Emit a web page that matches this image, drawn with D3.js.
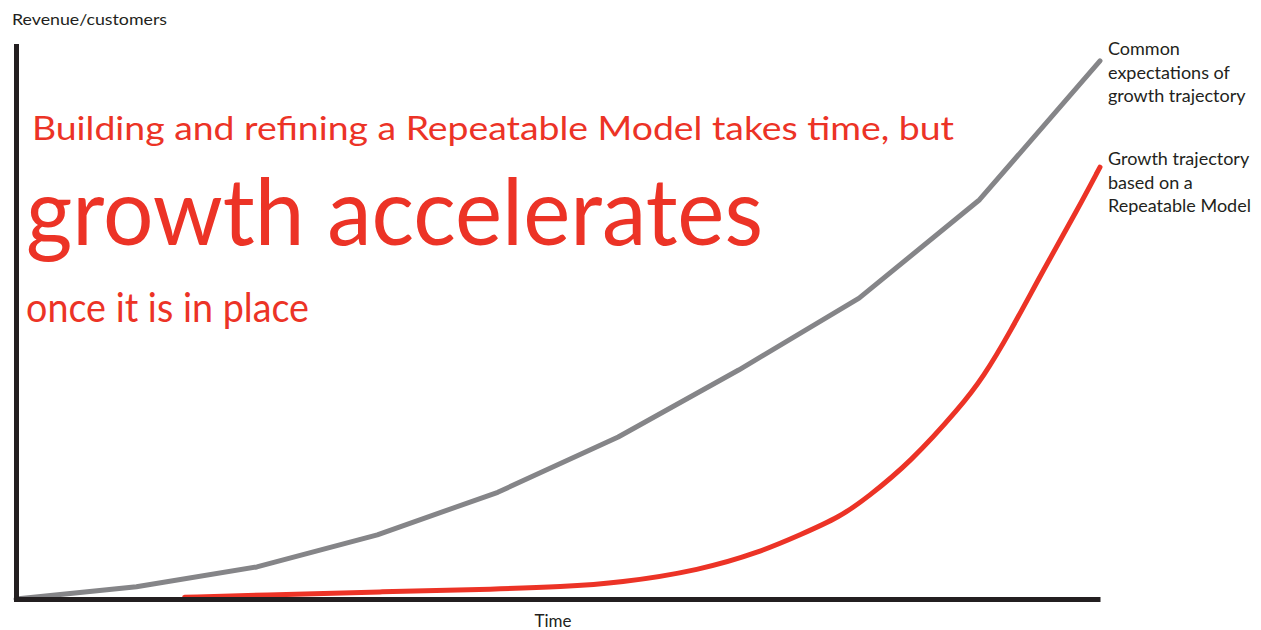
<!DOCTYPE html>
<html lang="en">
<head>
  <meta charset="UTF-8">
  <title>Repeatable Model growth</title>
  <script src="https://d3js.org/d3.v7.min.js"></script>
</head>
<body style="margin: 0; overflow: hidden; background: #fff;">

<script>
  // Data (time units 0..9, revenue 0..100)
  const commonTime = [0, 1, 2, 3, 4, 5, 6, 7, 8, 9];
  const commonValues = [0, 2.2, 5.8, 11.6, 19.3, 29.3, 41.4, 54.4, 72.2, 97.3];

  const repeatTime = [1.40, 2.03, 3.02, 4.02, 4.52, 5.01, 5.68, 6.18, 6.51, 6.84, 7.07, 7.42, 7.84, 8.03, 8.25, 8.53, 8.81, 9.0];
  const repeatValues = [0.3, 0.7, 1.3, 1.8, 2.2, 2.9, 5.2, 8.5, 11.6, 14.8, 18.4, 24.6, 34.7, 40.1, 48.1, 59.5, 70.3, 78.1];

  const commonLabel = ['Common', 'expectations of', 'growth trajectory'];
  const repeatLabel = ['Growth trajectory', 'based on a', 'Repeatable Model'];

  const headline = [
    { text: 'Building and refining a Repeatable Model takes time, but', x: 32, y: 140, size: 33, len: 922 },
    { text: 'growth accelerates', x: 26, y: 245, size: 94, len: 737 },
    { text: 'once it is in place', x: 26, y: 322, size: 40, len: 283 }
  ];

  const width = 1261, height = 630;
  const red = '#ec3326', grey = '#858588', ink = '#231f20';
  const font = 'Lato, "Open Sans", sans-serif';

  const svg = d3.select('body').append('svg')
    .attr('width', width)
    .attr('height', height);

  const x = d3.scaleLinear().domain([0, 9]).range([16, 1100]);
  const y = d3.scaleLinear().domain([0, 100]).range([599, 46]);

  //Lines
  const greyLine = d3.line()
    .x((d, i) => x(commonTime[i]))
    .y(d => y(d));

  svg.append('path')
    .datum(commonValues)
    .attr('d', greyLine)
    .attr('fill', 'none')
    .attr('stroke', grey)
    .attr('stroke-width', 5)
    .attr('stroke-linejoin', 'round')
    .attr('stroke-linecap', 'round');

  const redLine = d3.line()
    .x((d, i) => x(repeatTime[i]))
    .y(d => y(d))
    .curve(d3.curveBasis);

  svg.append('path')
    .datum(repeatValues)
    .attr('d', redLine)
    .attr('fill', 'none')
    .attr('stroke', red)
    .attr('stroke-width', 5)
    .attr('stroke-linecap', 'round');

  //Axes, no ticks, just the domain lines
  const xAxis = svg.append('g')
    .attr('transform', `translate(0,${y(0)})`)
    .call(d3.axisBottom(x).tickValues([]).tickSizeOuter(0));
  xAxis.select('.domain').attr('stroke', ink).attr('stroke-width', 5);

  const yAxis = svg.append('g')
    .attr('transform', `translate(${x(0)},0)`)
    .call(d3.axisLeft(y).tickValues([]).tickSizeOuter(0));
  yAxis.select('.domain').attr('stroke', ink).attr('stroke-width', 5).attr('stroke-linecap', 'square');

  //Axis titles
  svg.append('text')
    .attr('x', 12).attr('y', 25)
    .attr('font-size', 16)
    .attr('textLength', 155)
    .attr('lengthAdjust', 'spacingAndGlyphs')
    .style('font-family', font)
    .attr('fill', ink)
    .text('Revenue/customers');

  svg.append('text')
    .attr('x', 553).attr('y', 627)
    .attr('text-anchor', 'middle')
    .attr('font-size', 17)
    .style('font-family', font)
    .attr('fill', ink)
    .text('Time');

  //Headline in red
  svg.selectAll('text.headline')
    .data(headline)
    .join('text')
    .attr('class', 'headline')
    .attr('x', d => d.x)
    .attr('y', d => d.y)
    .attr('font-size', d => d.size)
    .attr('textLength', d => d.len)
    .attr('lengthAdjust', 'spacingAndGlyphs')
    .style('font-family', font)
    .attr('fill', red)
    .text(d => d.text);

  //Line labels
  const addLabel = function(lines, top) {
    svg.append('g').selectAll('text')
      .data(lines)
      .join('text')
      .attr('x', 1108)
      .attr('y', (d, i) => top + i * 23.5)
      .attr('font-size', 18)
      .style('font-family', font)
      .attr('fill', ink)
      .text(d => d);
  };
  addLabel(commonLabel, 55);
  addLabel(repeatLabel, 165);

</script>

</body>
</html>
